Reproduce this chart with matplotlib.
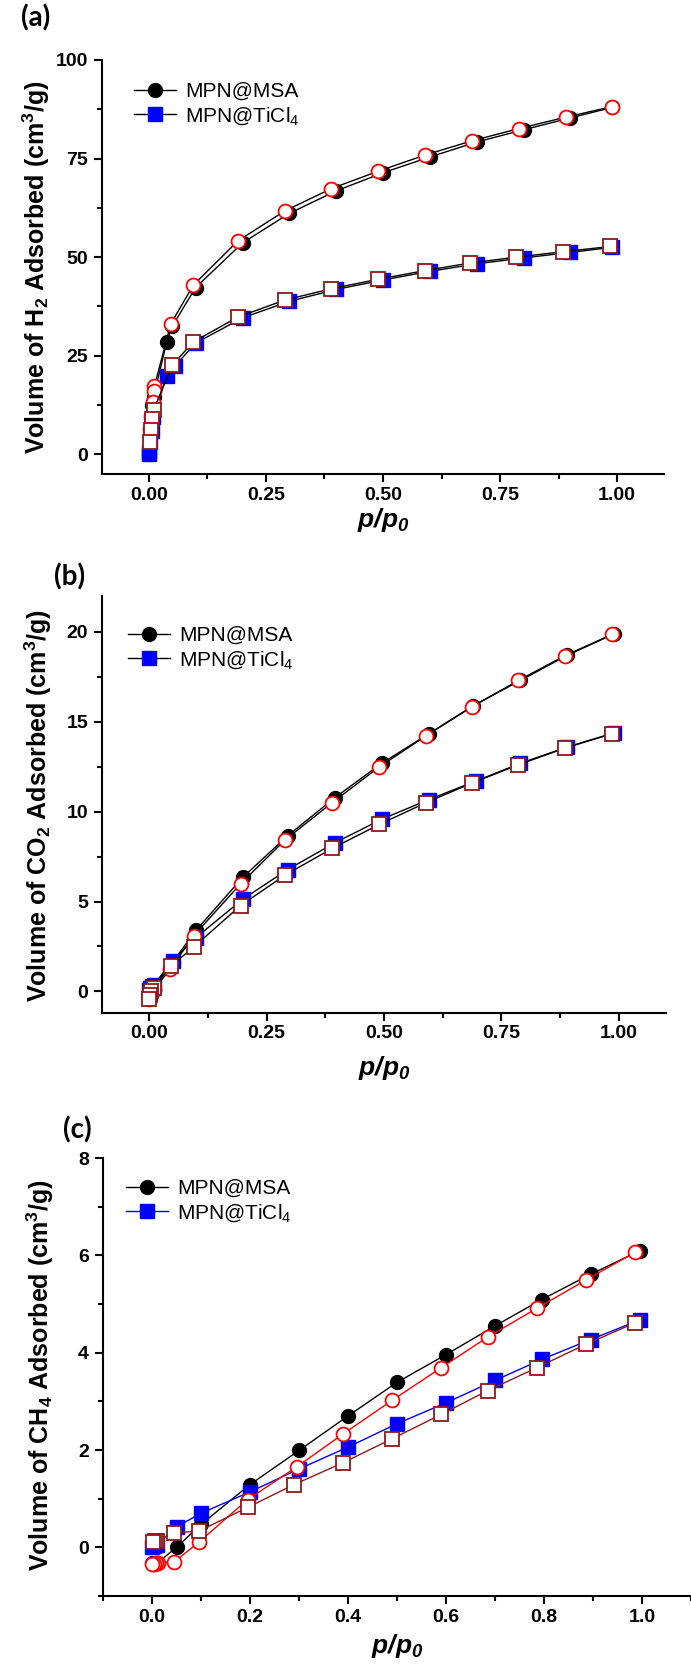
import matplotlib
matplotlib.use('Agg')
import matplotlib.pyplot as plt
from matplotlib import font_manager
from matplotlib.ticker import MultipleLocator, FormatStrFormatter
from matplotlib.lines import Line2D

# ---- data ----
# (a) H2
h2_msa_ads_x = [0.0, 0.002, 0.004, 0.007, 0.01, 0.038, 0.05, 0.1, 0.2, 0.3, 0.4, 0.5, 0.6, 0.7, 0.8, 0.9, 0.99]
h2_msa_ads_y = [0.0, 5.0, 9.0, 12.5, 14.5, 28.4, 32.5, 42.3, 53.6, 61.1, 66.8, 71.4, 75.4, 79.2, 82.3, 85.3, 88.0]
h2_msa_des_x = [0.99, 0.89, 0.79, 0.69, 0.59, 0.49, 0.39, 0.29, 0.19, 0.095, 0.047, 0.012, 0.011, 0.008, 0.005, 0.002]
h2_msa_des_y = [88.2, 85.5, 82.6, 79.5, 75.9, 71.8, 67.4, 61.7, 54.1, 42.9, 33.1, 17.3, 16.0, 13.2, 9.7, 6.3]
h2_ti_ads_x = [0.0, 0.001, 0.003, 0.006, 0.009, 0.038, 0.055, 0.1, 0.2, 0.3, 0.4, 0.5, 0.6, 0.7, 0.8, 0.9, 0.99]
h2_ti_ads_y = [0.0, 0.5, 3.0, 6.0, 9.5, 19.8, 22.3, 28.2, 34.6, 38.8, 41.8, 44.2, 46.4, 48.3, 49.8, 51.2, 52.5]
h2_ti_des_x = [0.985, 0.885, 0.785, 0.685, 0.59, 0.49, 0.39, 0.29, 0.19, 0.095, 0.05, 0.01, 0.007, 0.004, 0.002]
h2_ti_des_y = [52.7, 51.4, 50.0, 48.5, 46.6, 44.4, 42.0, 39.1, 34.8, 28.5, 22.6, 11.2, 9.0, 6.2, 3.2]

# (b) CO2
co2_msa_ads_x = [0.0, 0.003, 0.006, 0.01, 0.05, 0.1, 0.2, 0.295, 0.395, 0.495, 0.595, 0.69, 0.79, 0.89, 0.99]
co2_msa_ads_y = [0.0, 0.1, 0.2, 0.3, 1.62, 3.4, 6.36, 8.66, 10.77, 12.69, 14.33, 15.9, 17.3, 18.7, 19.9]
co2_msa_des_x = [0.985, 0.885, 0.786, 0.688, 0.59, 0.49, 0.39, 0.29, 0.195, 0.095, 0.045, 0.01, 0.005, 0.002, 0.0]
co2_msa_des_y = [19.86, 18.68, 17.3, 15.85, 14.23, 12.49, 10.51, 8.44, 5.99, 3.1, 1.23, 0.1, -0.1, -0.3, -0.4]
co2_ti_ads_x = [0.0, 0.003, 0.006, 0.01, 0.05, 0.1, 0.2, 0.295, 0.395, 0.495, 0.595, 0.695, 0.79, 0.89, 0.99]
co2_ti_ads_y = [0.1, 0.2, 0.3, 0.35, 1.72, 3.0, 5.14, 6.78, 8.26, 9.58, 10.67, 11.7, 12.69, 13.6, 14.39]
co2_ti_des_x = [0.985, 0.885, 0.785, 0.688, 0.59, 0.49, 0.39, 0.29, 0.195, 0.095, 0.047, 0.01, 0.005, 0.002, 0.0]
co2_ti_des_y = [14.33, 13.54, 12.6, 11.6, 10.51, 9.29, 7.96, 6.48, 4.78, 2.47, 1.42, 0.2, 0.0, -0.2, -0.4]

# (c) CH4
ch4_msa_ads_x = [0.0, 0.005, 0.01, 0.05, 0.1, 0.2, 0.3, 0.4, 0.5, 0.6, 0.7, 0.795, 0.895, 0.995]
ch4_msa_ads_y = [-0.33, -0.35, -0.33, 0.0, 0.47, 1.29, 1.99, 2.70, 3.39, 3.96, 4.55, 5.09, 5.61, 6.09]
ch4_msa_des_x = [0.985, 0.885, 0.785, 0.685, 0.59, 0.49, 0.39, 0.295, 0.195, 0.095, 0.045, 0.012, 0.008, 0.004, 0.0]
ch4_msa_des_y = [6.06, 5.49, 4.91, 4.32, 3.69, 3.02, 2.33, 1.65, 0.98, 0.1, -0.3, -0.32, -0.33, -0.34, -0.35]
ch4_ti_ads_x = [0.0, 0.005, 0.01, 0.05, 0.1, 0.2, 0.3, 0.4, 0.5, 0.6, 0.7, 0.795, 0.895, 0.995]
ch4_ti_ads_y = [0.0, 0.02, 0.05, 0.42, 0.70, 1.14, 1.61, 2.06, 2.54, 2.97, 3.43, 3.86, 4.27, 4.67]
ch4_ti_des_x = [0.985, 0.885, 0.785, 0.685, 0.59, 0.49, 0.39, 0.29, 0.195, 0.095, 0.045, 0.01, 0.006, 0.002]
ch4_ti_des_y = [4.61, 4.17, 3.69, 3.22, 2.73, 2.23, 1.74, 1.29, 0.82, 0.33, 0.30, 0.14, 0.12, 0.10]

labels = ['MPN@MSA', 'MPN@TiCl$_4$']
gases = ['H$_2$', 'CO$_2$', 'CH$_4$']
panels = ['(a)', '(b)', '(c)']

# ---- fonts ----
names = {f.name for f in font_manager.fontManager.ttflist}
if 'Liberation Sans Narrow' in names:
    FONT = 'Liberation Sans Narrow'
    fs = 1.15
else:
    FONT = 'Liberation Sans'
    fs = 1.0
plt.rcParams['font.family'] = [FONT, 'DejaVu Sans']
plt.rcParams['mathtext.default'] = 'regular'

W, H = 691, 1667
fig = plt.figure(figsize=(W / 100, H / 100), dpi=100)


def px_axes(left, top, right, bottom):
    return fig.add_axes([left / W, 1 - bottom / H, (right - left) / W, (bottom - top) / H])


axa = px_axes(102, 60, 664, 474)
axb = px_axes(102, 596, 666, 1013)
axc = px_axes(103, 1158, 691, 1596)

MS = 10


def draw(ax, ads, des, ads_col, des_col):
    (msa_ax, msa_ay), (ti_ax, ti_ay) = ads
    (msa_dx, msa_dy), (ti_dx, ti_dy) = des
    ax.plot(msa_ax, msa_ay, '-', color=ads_col[0], lw=1, marker='o', ms=MS,
            mfc='black', mec='black', zorder=3)
    ax.plot(ti_ax, ti_ay, '-', color=ads_col[1], lw=1, marker='s', ms=MS - 0.5,
            mfc='#0000ff', mec='#0000ff', zorder=3)
    ax.plot(msa_dx, msa_dy, '-', color=des_col[0], lw=1, marker='o', ms=MS,
            mfc='white', mec='#ff0000', mew=1.3, zorder=4)
    ax.plot(ti_dx, ti_dy, '-', color=des_col[1], lw=1, marker='s', ms=MS - 0.5,
            mfc='white', mec='#8b1a1a', mew=1.3, zorder=4)


draw(axa, [(h2_msa_ads_x, h2_msa_ads_y), (h2_ti_ads_x, h2_ti_ads_y)],
     [(h2_msa_des_x, h2_msa_des_y), (h2_ti_des_x, h2_ti_des_y)],
     ['black', 'black'], ['black', 'black'])
draw(axb, [(co2_msa_ads_x, co2_msa_ads_y), (co2_ti_ads_x, co2_ti_ads_y)],
     [(co2_msa_des_x, co2_msa_des_y), (co2_ti_des_x, co2_ti_des_y)],
     ['black', 'black'], ['black', 'black'])
draw(axc, [(ch4_msa_ads_x, ch4_msa_ads_y), (ch4_ti_ads_x, ch4_ti_ads_y)],
     [(ch4_msa_des_x, ch4_msa_des_y), (ch4_ti_des_x, ch4_ti_des_y)],
     ['black', '#0000ff'], ['#ff0000', '#8b1a1a'])

# axis limits / ticks
axa.set_xlim(-0.1, 1.1); axa.set_ylim(-5, 100)
axa.xaxis.set_major_locator(MultipleLocator(0.25)); axa.xaxis.set_minor_locator(MultipleLocator(0.125))
axa.yaxis.set_major_locator(MultipleLocator(25)); axa.yaxis.set_minor_locator(MultipleLocator(12.5))
axa.xaxis.set_major_formatter(FormatStrFormatter('%.2f'))

axb.set_xlim(-0.1, 1.1); axb.set_ylim(-1.2, 22)
axb.xaxis.set_major_locator(MultipleLocator(0.25)); axb.xaxis.set_minor_locator(MultipleLocator(0.125))
axb.yaxis.set_major_locator(MultipleLocator(5)); axb.yaxis.set_minor_locator(MultipleLocator(2.5))
axb.xaxis.set_major_formatter(FormatStrFormatter('%.2f'))

axc.set_xlim(-0.1, 1.1); axc.set_ylim(-1, 8)
axc.xaxis.set_major_locator(MultipleLocator(0.2)); axc.xaxis.set_minor_locator(MultipleLocator(0.1))
axc.yaxis.set_major_locator(MultipleLocator(2)); axc.yaxis.set_minor_locator(MultipleLocator(1))
axc.xaxis.set_major_formatter(FormatStrFormatter('%.1f'))

for ax in (axa, axb, axc):
    ax.yaxis.set_major_formatter(FormatStrFormatter('%d'))
    for s in ('top', 'right'):
        ax.spines[s].set_visible(False)
    for s in ('left', 'bottom'):
        ax.spines[s].set_linewidth(1.5)
    ax.tick_params(which='major', direction='out', length=6, width=1.5)
    ax.tick_params(which='minor', direction='out', length=3.5, width=1.5)
    ax.tick_params(axis='y', pad=4)
    ax.tick_params(axis='x', pad=3)
    for t in ax.get_xticklabels() + ax.get_yticklabels():
        t.set_fontweight('bold')
        t.set_fontsize(14 * fs)

# legends
leg_pos = [(axa, 0.057, 0.947, 'black'), (axb, 0.046, 0.928, 'black'), (axc, 0.039, 0.952, '#0000ff')]
for ax, lx, ly, tcol in leg_pos:
    h1 = Line2D([], [], color='black', lw=1, marker='o', ms=MS, mfc='black', mec='black')
    h2 = Line2D([], [], color=tcol, lw=1, marker='s', ms=MS - 0.5, mfc='#0000ff', mec='#0000ff')
    ax.legend([h1, h2], labels, loc='upper left', bbox_to_anchor=(lx, ly), frameon=False,
              borderpad=0, borderaxespad=0, handlelength=2.0, handletextpad=0.45,
              labelspacing=0.2, prop={'family': [FONT], 'size': 15 * fs})

# axis labels and panel labels (figure pixel coords)
ylab_x = [36, 38, 40]
ylab_y = [267, 805, 1375]
xlab_y = [520, 1068, 1646]
xlab_x = [383, 384, 397]
pan_xy = [(36, 18), (70, 577), (77, 1130)]
for i in range(3):
    fig.text(ylab_x[i] / W, 1 - ylab_y[i] / H, 'Volume of ' + gases[i] + ' Adsorbed (cm$^3$/g)',
             rotation=90, ha='center', va='center', fontsize=18 * fs, fontweight='bold')
    fig.text(xlab_x[i] / W, 1 - xlab_y[i] / H, 'p/p$_0$', ha='center', va='center',
             fontsize=19 * fs, fontweight='bold', style='italic')
    fig.text(pan_xy[i][0] / W, 1 - pan_xy[i][1] / H, panels[i], ha='center', va='center',
             fontsize=20, fontweight='bold', family=['Lato', 'DejaVu Sans'])

fig.savefig('out.png', dpi=100)
